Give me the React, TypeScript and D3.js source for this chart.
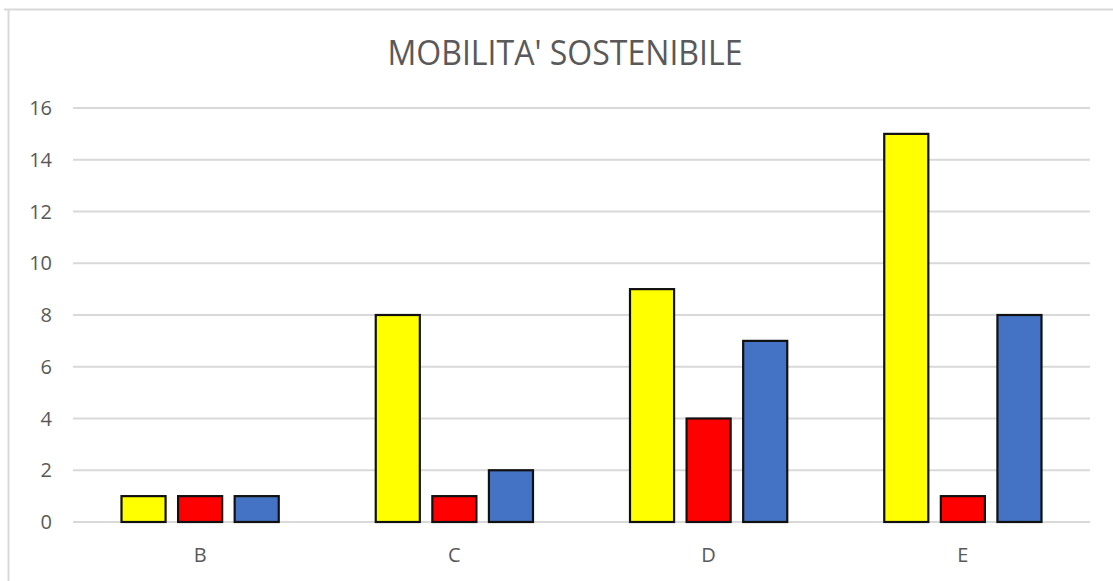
import React from 'react';
import * as d3 from 'd3';

const categories = ['B', 'C', 'D', 'E'];
const seriesNames = ['S1', 'S2', 'S3'];
const seriesColors = ['#ffff00', '#ff0000', '#4472c4'];
const s1Values = [1, 8, 9, 15];
const s2Values = [1, 1, 4, 1];
const s3Values = [1, 2, 7, 8];
const yTicks = [0, 2, 4, 6, 8, 10, 12, 14, 16];
const title = "MOBILITA' SOSTENIBILE";

const seriesValues = [s1Values, s2Values, s3Values];

const width = 1113;
const height = 581;
const plot = { left: 73, right: 1090, top: 108, bottom: 522 };
const textColor = '#595959';
const font = '"Open Sans", "Noto Sans", sans-serif';

export default function App() {
  const x0 = d3.scaleBand<string>()
    .domain(categories)
    .range([plot.left, plot.right]);

  const groupPad = 48.5;
  const x1 = d3.scaleBand<string>()
    .domain(seriesNames)
    .range([groupPad, x0.bandwidth() - groupPad])
    .paddingInner(0.221);

  const y = d3.scaleLinear()
    .domain([0, 16])
    .range([plot.bottom, plot.top]);

  return (
    <svg
      width={width}
      height={height}
      style={{ position: 'absolute', left: 0, top: 0, background: '#fff' }}
    >
      {/* chart frame */}
      <line x1={8.5} y1={9} x2={8.5} y2={height} stroke="#d9d9d9" strokeWidth={2} />
      <line x1={4} y1={9.5} x2={width} y2={9.5} stroke="#d9d9d9" strokeWidth={2} />

      <text
        x={565}
        y={65}
        textAnchor="middle"
        fontFamily={font}
        fontSize={34}
        fill={textColor}
        textLength={355}
        lengthAdjust="spacingAndGlyphs"
      >
        {title}
      </text>

      {/* gridlines + y labels */}
      {yTicks.map(t => (
        <g key={t}>
          <line
            x1={plot.left}
            x2={plot.right}
            y1={y(t)}
            y2={y(t)}
            stroke="#d9d9d9"
            strokeWidth={2}
          />
          <text
            x={52}
            y={y(t)}
            dy="0.36em"
            textAnchor="end"
            fontFamily={font}
            fontSize={20}
            fill={textColor}
          >
            {t}
          </text>
        </g>
      ))}

      {/* bars */}
      {categories.map((c, ci) => (
        <g key={c} transform={`translate(${x0(c)},0)`}>
          {seriesNames.map((s, si) => {
            const v = seriesValues[si][ci];
            return (
              <rect
                key={s}
                x={x1(s)}
                y={y(v)}
                width={x1.bandwidth()}
                height={y(0) - y(v)}
                fill={seriesColors[si]}
                stroke="#111"
                strokeWidth={2.2}
              />
            );
          })}
          <text
            x={x0.bandwidth() / 2}
            y={562}
            textAnchor="middle"
            fontFamily={font}
            fontSize={20}
            fill={textColor}
          >
            {c}
          </text>
        </g>
      ))}
    </svg>
  );
}
